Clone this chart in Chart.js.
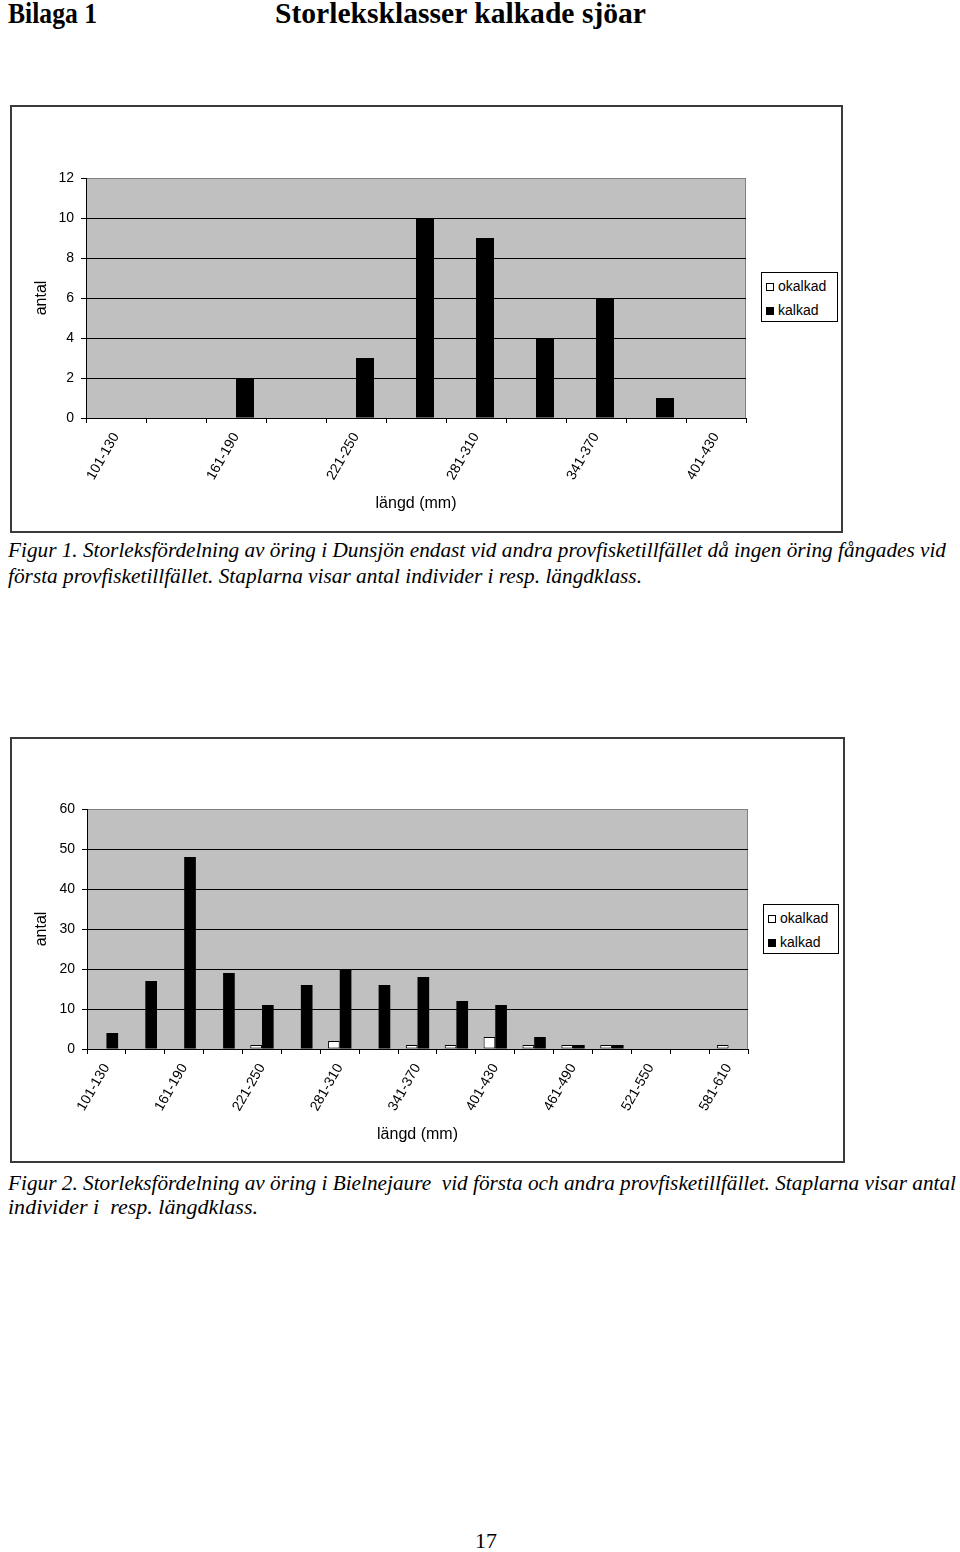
<!DOCTYPE html>
<html>
<head>
<meta charset="utf-8">
<script src="https://cdn.jsdelivr.net/npm/chart.js@4.4.1/dist/chart.umd.min.js"></script>
<style>
  body { margin: 0; width: 960px; height: 1552px; position: relative; background: #fff; overflow: hidden; }
  .t { position: absolute; white-space: nowrap; transform-origin: 0 0; font-family: "Liberation Serif", "Times New Roman", serif; color: #000; }
  .head { font-weight: bold; font-size: 30px; line-height: 32px; }
  .cap { font-style: italic; font-size: 21px; line-height: 26px; }
  .box { position: absolute; border: 2px solid #3a3a3a; box-sizing: border-box; background: #fff; }
  .box canvas { position: absolute; left: 0; top: 0; }
  .legend { position: absolute; border: 1px solid #000; box-sizing: border-box; background: #fff;
            font-family: "Liberation Sans", Arial, sans-serif; font-size: 14px; color: #000; }
  .legend div { position: absolute; left: 4px; height: 16px; line-height: 16px; white-space: nowrap; }
  .legend span { display: inline-block; width: 8px; height: 8px; border: 1px solid #000; margin-right: 4px; vertical-align: 0px; box-sizing: border-box; }
</style>
</head>
<body>
<div class="t head" style="left:8px;top:-3px" data-w="89">Bilaga 1</div>
<div class="t head" style="left:275px;top:-3px" data-w="371">Storleksklasser kalkade sjöar</div>

<div class="box" style="left:10px;top:105px;width:833px;height:428px">
  <canvas id="c1" width="829" height="424"></canvas>
  <div class="legend" style="left:749px;top:165px;width:77px;height:50px">
    <div style="top:5px"><span style="background:#fff"></span>okalkad</div>
    <div style="top:29px"><span style="background:#000"></span>kalkad</div>
  </div>
</div>
<div class="t cap" style="left:8px;top:537px" data-w="938">Figur 1. Storleksfördelning av öring i Dunsjön endast vid andra provfisketillfället då ingen öring fångades vid</div>
<div class="t cap" style="left:8px;top:563px" data-w="634">första provfisketillfället. Staplarna visar antal individer i resp. längdklass.</div>

<div class="box" style="left:10px;top:737px;width:835px;height:426px">
  <canvas id="c2" width="831" height="422"></canvas>
  <div class="legend" style="left:751px;top:165px;width:76px;height:50px">
    <div style="top:5px"><span style="background:#fff"></span>okalkad</div>
    <div style="top:29px"><span style="background:#000"></span>kalkad</div>
  </div>
</div>
<div class="t cap" style="left:8px;top:1170px" data-w="948">Figur 2. Storleksfördelning av öring i Bielnejaure&nbsp; vid första och andra provfisketillfället. Staplarna visar antal</div>
<div class="t cap" style="left:8px;top:1194px" data-w="250">individer i&nbsp; resp. längdklass.</div>

<div class="t" style="left:475px;top:1528px;font-size:22px;line-height:26px" data-w="22">17</div>

<script>
// Figur 1 - Dunsjön
const klasser1 = ['101-130', '131-160', '161-190', '191-220', '221-250', '251-280',
                  '281-310', '311-340', '341-370', '371-400', '401-430'];
const okalkad1 = [0, 0, 0, 0, 0, 0, 0, 0, 0, 0, 0];
const kalkad1 = [0, 0, 2, 0, 3, 10, 9, 4, 6, 1, 0];
const yMax1 = 12, yStep1 = 2;

// Figur 2 - Bielnejaure
const klasser2 = ['101-130', '131-160', '161-190', '191-220', '221-250', '251-280',
                  '281-310', '311-340', '341-370', '371-400', '401-430', '431-460',
                  '461-490', '491-520', '521-550', '551-580', '581-610'];
const okalkad2 = [0, 0, 0, 0, 1, 0, 2, 0, 1, 1, 3, 1, 1, 1, 0, 0, 1];
const kalkad2 = [4, 17, 48, 19, 11, 16, 20, 16, 18, 12, 11, 3, 1, 1, 0, 0, 0];
const yMax2 = 60, yStep2 = 10;

const sans = '"Liberation Sans", Arial, sans-serif';

// gray plot area like the old excel charts
const plotBg = {
  id: 'plotBg',
  beforeDraw(chart) {
    const { ctx, chartArea: a } = chart;
    ctx.save();
    ctx.fillStyle = '#c0c0c0';
    ctx.fillRect(a.left, a.top, a.right - a.left, a.bottom - a.top);
    ctx.strokeStyle = '#808080';
    ctx.lineWidth = 1;
    ctx.strokeRect(a.left + 0.5, a.top + 0.5, a.right - a.left - 1, a.bottom - a.top);
    ctx.restore();
  }
};

function makeChart(id, labels, okal, kal, yMax, yStep, lay) {
  return new Chart(document.getElementById(id), {
    type: 'bar',
    data: {
      labels: labels,
      datasets: [{
        label: 'okalkad',
        data: okal,
        backgroundColor: '#fff',
        borderColor: '#000',
        borderWidth: c => (c.raw ? 1 : 0),
        borderSkipped: false,
        categoryPercentage: 0.6,
        barPercentage: 1
      }, {
        label: 'kalkad',
        data: kal,
        backgroundColor: '#000',
        borderWidth: 0,
        categoryPercentage: 0.6,
        barPercentage: 1
      }]
    },
    options: {
      responsive: false,
      animation: false,
      layout: { padding: lay.pad },
      plugins: { legend: { display: false }, tooltip: { enabled: false } },
      scales: {
        x: {
          afterFit: s => { s.height = lay.xH; },
          grid: { offset: true, drawOnChartArea: false, tickLength: 5, tickColor: '#000', tickWidth: 1 },
          border: { color: '#000', width: 1 },
          ticks: {
            autoSkip: false, maxRotation: 60, minRotation: 60, padding: 7,
            color: '#000', font: { family: sans, size: 14 },
            callback: (v, i) => (i % 2 === 0 ? labels[i] : '')
          },
          title: { display: true, text: 'längd (mm)', color: '#000', font: { family: sans, size: 16 } }
        },
        y: {
          min: 0, max: yMax,
          afterFit: s => { s.width = lay.yW; },
          grid: {
            color: c => (c.tick && c.tick.value === yMax ? '#808080' : '#000'),
            tickColor: '#000', tickLength: 5, lineWidth: 1
          },
          border: { color: '#000', width: 1 },
          ticks: { stepSize: yStep, padding: 7, color: '#000', font: { family: sans, size: 14 } },
          title: { display: true, text: 'antal', color: '#000', font: { family: sans, size: 16 } }
        }
      }
    },
    plugins: [plotBg]
  });
}

makeChart('c1', klasser1, okalkad1, kalkad1, yMax1, yStep1,
  { pad: { left: 16, right: 95, top: 71, bottom: 14 }, yW: 58, xH: 99 });
makeChart('c2', klasser2, okalkad2, kalkad2, yMax2, yStep2,
  { pad: { left: 16, right: 95, top: 70, bottom: 13 }, yW: 59, xH: 99 });

// squeeze the serif text to the widths in the scan
document.querySelectorAll('[data-w]').forEach(el => {
  const w = el.getBoundingClientRect().width;
  el.style.transform = 'scaleX(' + (+el.dataset.w / w) + ')';
});
</script>
</body>
</html>
